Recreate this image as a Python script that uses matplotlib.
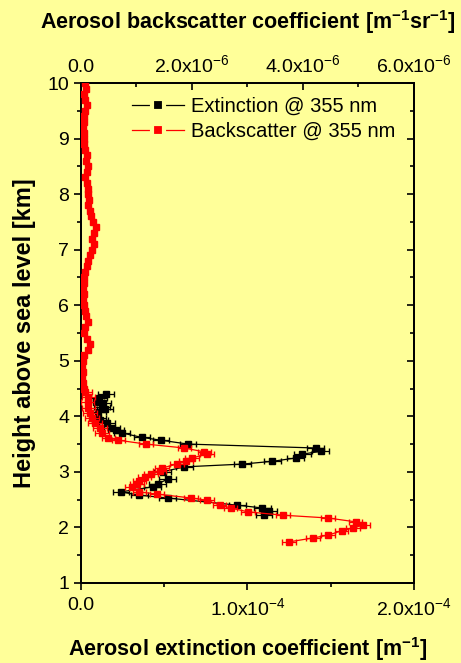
import numpy as np
import matplotlib
matplotlib.use('Agg')
import matplotlib.pyplot as plt
from matplotlib.lines import Line2D
from matplotlib.ticker import MultipleLocator, FixedLocator, FixedFormatter

plt.rcParams['font.family'] = ['Liberation Sans', 'DejaVu Sans']
plt.rcParams['mathtext.default'] = 'regular'

# --- data ---
# extinction @ 355 nm, units of 1e-4 m^-1, height in km
ext_x = [0.150, 0.108, 0.090, 0.132, 0.126, 0.144, 0.102, 0.102, 0.114, 0.156,
         0.186, 0.210, 0.246, 0.366, 0.480, 0.643, 1.41, 1.44, 1.33, 1.29,
         1.15, 0.97, 0.62, 0.49, 0.52, 0.46, 0.43, 0.24, 0.35, 0.52,
         0.94, 1.09, 1.13, 1.10]
ext_h = [4.40, 4.33, 4.26, 4.24, 4.17, 4.13, 4.08, 3.97, 3.93, 3.88,
         3.79, 3.75, 3.70, 3.62, 3.57, 3.50, 3.43, 3.37, 3.32, 3.25,
         3.19, 3.14, 3.09, 3.00, 2.87, 2.78, 2.73, 2.64, 2.58, 2.53,
         2.40, 2.35, 2.29, 2.22]
ext_err = 0.05

# backscatter @ 355 nm, units of 1e-6 m^-1 sr^-1
bsc_x = [0.07, 0.09, 0.06, 0.08, 0.10, 0.07, 0.05, 0.06, 0.04, 0.05,
         0.06, 0.05, 0.08, 0.11, 0.09, 0.12, 0.10, 0.08, 0.11, 0.13,
         0.12, 0.15, 0.13, 0.16, 0.18, 0.22, 0.27, 0.24, 0.20, 0.23,
         0.19, 0.16, 0.12, 0.10, 0.07, 0.05, 0.06, 0.04, 0.05, 0.03,
         0.05, 0.07, 0.09, 0.12, 0.08, 0.06, 0.11, 0.16, 0.13, 0.05,
         0.03, 0.02, 0.04, 0.02, 0.03, 0.05,
         0.07, 0.13, 0.12, 0.13, 0.16, 0.20, 0.25, 0.34, 0.38, 0.49,
         0.67, 1.17, 1.86, 2.22, 2.27, 2.00, 1.89, 1.73, 1.46, 1.42,
         1.26, 1.15, 1.05, 1.01, 0.92, 1.05, 1.37, 1.98, 2.27, 2.50,
         2.70, 3.01, 3.64, 4.45, 4.95, 5.08, 4.90, 4.70, 4.45, 4.18, 3.75]
bsc_h = [10.0, 9.9, 9.8, 9.7, 9.6, 9.5, 9.4, 9.3, 9.2, 9.1,
         9.0, 8.9, 8.8, 8.7, 8.6, 8.5, 8.4, 8.3, 8.2, 8.1,
         8.0, 7.9, 7.8, 7.7, 7.6, 7.5, 7.4, 7.3, 7.2, 7.1,
         7.0, 6.9, 6.8, 6.7, 6.6, 6.5, 6.4, 6.3, 6.2, 6.1,
         6.0, 5.9, 5.8, 5.7, 5.6, 5.5, 5.4, 5.3, 5.2, 5.1,
         5.0, 4.9, 4.8, 4.7, 4.6, 4.5,
         4.44, 4.35, 4.26, 4.15, 4.06, 3.97, 3.88, 3.79, 3.70, 3.61,
         3.57, 3.50, 3.43, 3.36, 3.32, 3.25, 3.19, 3.14, 3.07, 3.01,
         2.96, 2.91, 2.83, 2.78, 2.73, 2.64, 2.60, 2.53, 2.49, 2.40,
         2.35, 2.28, 2.22, 2.17, 2.10, 2.04, 1.99, 1.94, 1.86, 1.81, 1.74]

bottom_ticks = [0.0, 1.0e-4, 2.0e-4]
bottom_labels = ['0.0', '1.0x10$^{-4}$', '2.0x10$^{-4}$']
top_ticks = [0.0, 2.0e-6, 4.0e-6, 6.0e-6]
top_labels = ['0.0', '2.0x10$^{-6}$', '4.0x10$^{-6}$', '6.0x10$^{-6}$']

bg = '#ffff99'

fig = plt.figure(figsize=(4.61, 6.63), dpi=100, facecolor=bg)
ax = fig.add_axes([0.1757, 0.1207, 0.7223, 0.7541], facecolor=bg)
ax_top = ax.twiny()

ext_x = np.array(ext_x) * 1e-4
bsc_x = np.array(bsc_x) * 1e-6
bsc_h = np.array(bsc_h)
bsc_err = np.where(bsc_h > 4.46, 0.0, 0.12e-6)

ax.errorbar(ext_x, ext_h, xerr=ext_err * 1e-4, color='black', marker='s',
            markersize=5, linewidth=0.9, elinewidth=0.9, capsize=2.5, zorder=3)
ax_top.errorbar(bsc_x, bsc_h, xerr=bsc_err, color='red', marker='s',
                markersize=5, linewidth=0.9, elinewidth=0.9, capsize=2.5, zorder=3)

ax.set_xlim(0, 2.0e-4)
ax.set_ylim(1, 10)
ax_top.set_xlim(0, 6.0e-6)

ax.xaxis.set_major_locator(FixedLocator(bottom_ticks))
ax.xaxis.set_major_formatter(FixedFormatter(bottom_labels))
ax.xaxis.set_minor_locator(MultipleLocator(0.5e-4))
ax_top.xaxis.set_major_locator(FixedLocator(top_ticks))
ax_top.xaxis.set_major_formatter(FixedFormatter(top_labels))
ax_top.xaxis.set_minor_locator(MultipleLocator(1.0e-6))
ax.yaxis.set_major_locator(MultipleLocator(1))
ax.yaxis.set_minor_locator(MultipleLocator(0.5))

ax.tick_params(axis='both', which='major', length=5, width=1.2, labelsize=14,
               direction='out')
ax.tick_params(axis='x', which='major', pad=5)
ax.tick_params(axis='both', which='minor', length=3, width=1.2, direction='out')
ax_top.tick_params(axis='x', which='major', length=5, width=1.2, labelsize=14,
                   direction='in', pad=5)
ax_top.tick_params(axis='x', which='minor', length=3, width=1.2, direction='in')

ax_r = ax.secondary_yaxis('right')
ax_r.yaxis.set_major_locator(MultipleLocator(1))
ax_r.yaxis.set_minor_locator(MultipleLocator(0.5))
ax_r.tick_params(which='major', direction='in', length=5, width=1.2, labelright=False)
ax_r.tick_params(which='minor', direction='in', length=3, width=1.2)

for a in (ax, ax_top, ax_r):
    for s in a.spines.values():
        s.set_linewidth(1.3)

ax.set_xlabel('Aerosol extinction coefficient [m$^{-1}$]', fontsize=15.5,
              fontweight='bold', labelpad=12)
ax.set_ylabel('Height above sea level [km]', fontsize=17, fontweight='bold',
              labelpad=8)
ax_top.set_xlabel('Aerosol backscatter coefficient [m$^{-1}$sr$^{-1}$]',
                  fontsize=15.5, fontweight='bold', labelpad=18)

# legend handles: line - gap - square - gap - line
handles = [Line2D([], [], color='black', linewidth=0.9, marker='s', markersize=9,
                  markerfacecolor='black', markeredgecolor=bg, markeredgewidth=3),
           Line2D([], [], color='red', linewidth=0.9, marker='s', markersize=9,
                  markerfacecolor='red', markeredgecolor=bg, markeredgewidth=3)]
ax_top.legend(handles, ['Extinction @ 355 nm', 'Backscatter @ 355 nm'],
              loc='upper right', bbox_to_anchor=(0.985, 1.0), frameon=False,
              fontsize=14.5, numpoints=1, handlelength=2.6, handletextpad=0.3,
              labelspacing=0.3, borderaxespad=0.3)

fig.savefig('out.png', dpi=100, facecolor=bg)
